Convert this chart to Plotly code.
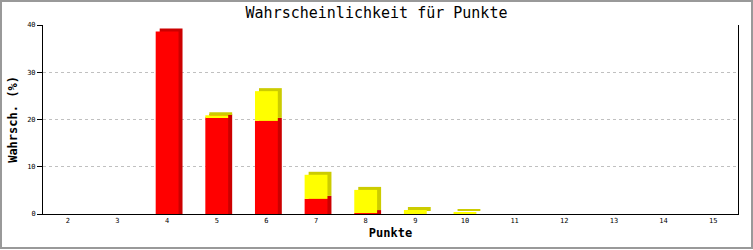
import plotly.graph_objects as go

punkte = [2, 3, 4, 5, 6, 7, 8, 9, 10, 11, 12, 13, 14, 15]
rot = [0, 0, 38.6, 20.5, 19.7, 3.2, 0.2, 0, 0, 0, 0, 0, 0, 0]
gelb = [0, 0, 0, 0.4, 6.3, 5.1, 4.9, 0.85, 0.3, 0, 0, 0, 0, 0]

W, H = 753, 250
ml, mr, mt, mb = 43, 15, 25, 36
pw, ph = W - ml - mr, H - mt - mb
xr = (1.5, 15.5)
yr = (0, 40)
ux = (xr[1] - xr[0]) / pw   # data units per px
uy = (yr[1] - yr[0]) / ph
dx, dy = 4 * ux, 3 * uy
bw = 0.46

fig = go.Figure()
# 3D side/top faces (shadows)
fig.add_bar(x=punkte, y=[r + dy if r > 0 else 0 for r in rot], base=[0] * len(punkte),
            width=bw, offset=-bw / 2 + dx,
            marker=dict(color="#cc0000", line_width=0), hoverinfo="skip")
fig.add_bar(x=punkte, y=gelb, base=[r + dy for r in rot], width=bw, offset=-bw / 2 + dx,
            marker=dict(color="#cccc00", line_width=0), hoverinfo="skip")
# front faces
fig.add_bar(x=punkte, y=rot, base=[0] * len(punkte), width=bw, offset=-bw / 2,
            marker=dict(color="#ff0000", line_width=0))
fig.add_bar(x=punkte, y=gelb, base=rot, width=bw, offset=-bw / 2,
            marker=dict(color="#ffff00", line_width=0))

mono = "DejaVu Sans Mono"
fig.update_layout(
    width=W, height=H, barmode="overlay", showlegend=False,
    margin=dict(l=ml, r=mr, t=mt, b=mb),
    paper_bgcolor="white", plot_bgcolor="white",
    title=dict(text="Wahrscheinlichkeit für Punkte", x=0.5, xanchor="center",
               y=1 - 13 / H, yanchor="middle",
               font=dict(family=mono, size=15, color="black")),
    font=dict(family=mono, color="black"),
    xaxis=dict(range=list(xr), tickvals=punkte, ticktext=[str(p) for p in punkte],
               showgrid=False, zeroline=False, showline=True, linecolor="black",
               linewidth=1, ticks="", tickfont=dict(size=7, family=mono, color="black"),
               title=dict(text="<b>Punkte</b>", font=dict(size=12, family=mono), standoff=4)),
    yaxis=dict(range=list(yr), tickvals=[0, 10, 20, 30, 40], showgrid=True,
               gridcolor="#c0c0c0", griddash="3px,3px", gridwidth=1,
               zeroline=False, showline=True, linecolor="black", linewidth=1,
               mirror=True, ticks="outside", ticklen=5, tickcolor="black",
               tickfont=dict(size=7, family=mono, color="black"),
               title=dict(text="<b>Wahrsch. (%)</b>", font=dict(size=12, family=mono), standoff=6)),
    shapes=[dict(type="rect", xref="paper", yref="paper",
                 x0=-(ml - 1) / pw, x1=1 + (mr - 1) / pw,
                 y0=-(mb - 2) / ph, y1=1 + (mt - 1) / ph,
                 line=dict(color="#999999", width=2), fillcolor="rgba(0,0,0,0)", layer="below")],
)
fig.write_html("out.html")
